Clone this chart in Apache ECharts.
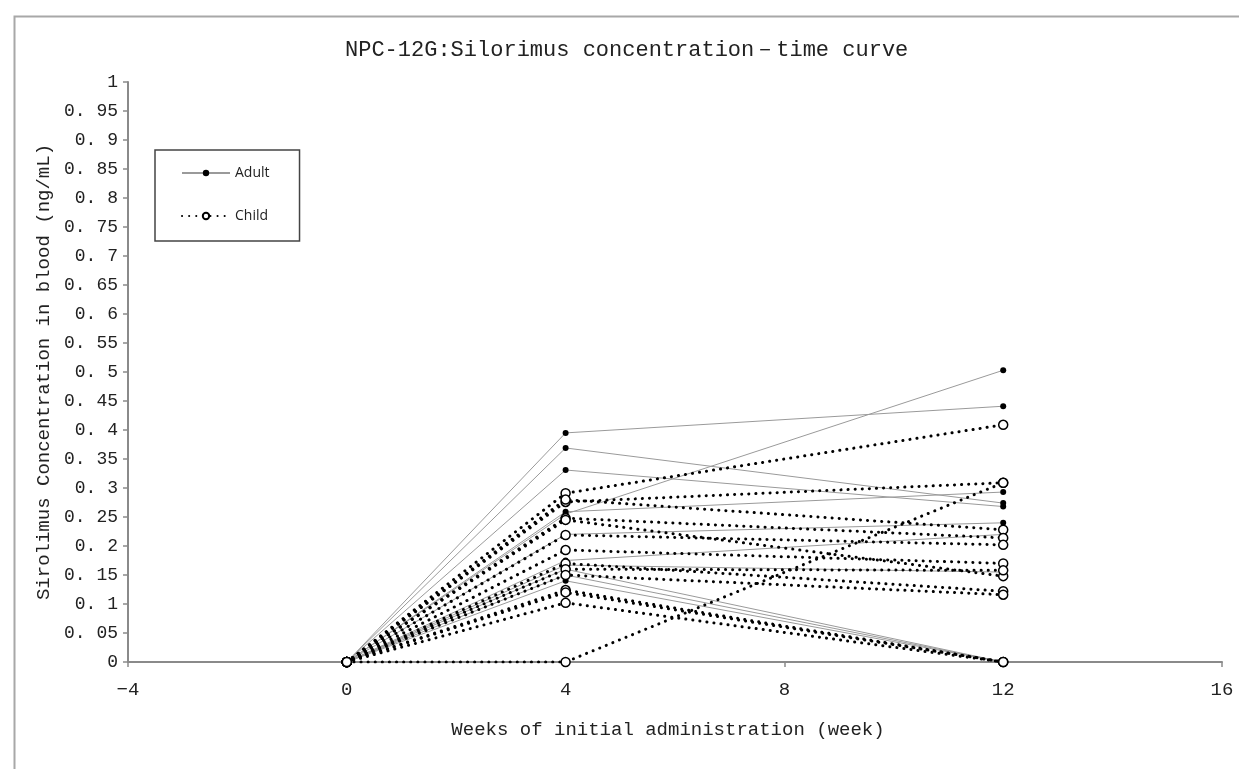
<!DOCTYPE html>
<html>
<head>
<meta charset="utf-8">
<script src="https://cdn.jsdelivr.net/npm/echarts@6/dist/echarts.min.js"></script>
<style>
html,body{margin:0;padding:0;background:#fff;}
#c{width:1239px;height:769px;}
</style>
</head>
<body>
<div id="c"></div>
<script>
// ---- data ----
const weeks = [0, 4, 12];
const adultWeek0 = [0, 0, 0, 0, 0, 0, 0, 0, 0, 0, 0];
const adultWeek4 = [0.395, 0.369, 0.331, 0.255, 0.259, 0.22, 0.175, 0.167, 0.16, 0.15, 0.14];
const adultWeek12 = [0.441, 0.274, 0.268, 0.503, 0.293, 0.24, 0.22, 0.155, 0.0, 0.0, 0.0];
const childWeek0 = [0, 0, 0, 0, 0, 0, 0, 0, 0, 0, 0, 0, 0, 0];
const childWeek4 = [0.291, 0.0, 0.276, 0.28, 0.248, 0.245, 0.219, 0.193, 0.17, 0.16, 0.15, 0.124, 0.12, 0.102];
const childWeek12 = [0.409, 0.309, 0.309, 0.228, 0.214, 0.148, 0.202, 0.17, 0.122, 0.158, 0.116, 0.0, 0.0, 0.0];
const yTicks = {min: 0, max: 1, step: 0.05};
const xTicks = {min: -4, max: 16, step: 4};
const titleText = 'NPC-12G:Silorimus concentration－time curve';

const mono = 'Liberation Mono';

function rowsOf(w0, w4, w12, i) {
  const v = [w0[i], w4[i], w12[i]];
  return weeks.map((w, j) => [w, v[j]]);
}

const series = [];
adultWeek4.forEach((_, i) => {
  series.push({
    name: 'Adult', type: 'line', z: 2,
    data: rowsOf(adultWeek0, adultWeek4, adultWeek12, i),
    symbol: 'circle', symbolSize: 6,
    itemStyle: {color: '#000'},
    lineStyle: {color: '#9a9a9a', width: 1},
    emphasis: {disabled: true}, animation: false
  });
});
childWeek4.forEach((_, i) => {
  series.push({
    name: 'Child', type: 'line', z: 3,
    data: rowsOf(childWeek0, childWeek4, childWeek12, i),
    symbol: 'circle', symbolSize: 9,
    itemStyle: {color: '#fff', borderColor: '#000', borderWidth: 1.5},
    lineStyle: {color: '#000', width: 3, type: [0.1, 7], cap: 'round'},
    emphasis: {disabled: true}, animation: false
  });
});

const chart = echarts.init(document.getElementById('c'));
chart.setOption({
  animation: false,
  backgroundColor: '#fff',
  graphic: [{
    type: 'rect', left: 12, top: 14, silent: true,
    shape: {width: 1260, height: 800},
    style: {fill: 'none', stroke: '#a8a8a8', lineWidth: 2}
  }],
  title: {
    text: titleText, left: 340, top: 34,
    textStyle: {fontFamily: mono, fontSize: 22, fontWeight: 'normal', color: '#222'}
  },
  legend: {
    data: ['Adult', 'Child'],
    orient: 'vertical', left: 155, top: 150,
    padding: [16, 30, 18, 26], itemGap: 29,
    itemWidth: 48, itemHeight: 8,
    borderColor: '#444', borderWidth: 1.5,
    textStyle: {fontFamily: 'Open Sans', fontSize: 14, color: '#222'}
  },
  grid: {left: 128, right: 17, top: 82, bottom: 107, containLabel: false},
  xAxis: {
    type: 'value', min: xTicks.min, max: xTicks.max, interval: xTicks.step,
    name: 'Weeks of initial administration (week)',
    nameLocation: 'middle', nameGap: 58,
    nameTextStyle: {fontFamily: mono, fontSize: 19, color: '#222', padding: [0, 14, 0, 0]},
    axisLine: {onZero: false, lineStyle: {color: '#8a8a8a', width: 2}},
    axisTick: {show: true, length: 5, lineStyle: {color: '#8a8a8a', width: 1.5}},
    axisLabel: {fontFamily: mono, fontSize: 19, color: '#222', margin: 18,
      formatter: v => String(v).replace('-', '−')},
    splitLine: {show: false}
  },
  yAxis: {
    type: 'value', min: yTicks.min, max: yTicks.max, interval: yTicks.step,
    name: 'Sirolimus Concentration in blood (ng/mL)',
    nameLocation: 'middle', nameGap: 72, nameRotate: 90,
    nameTextStyle: {fontFamily: mono, fontSize: 19, color: '#222'},
    axisLine: {show: true, onZero: false, lineStyle: {color: '#8a8a8a', width: 2}},
    axisTick: {show: true, length: 5, lineStyle: {color: '#8a8a8a', width: 1.5}},
    axisLabel: {fontFamily: mono, fontSize: 18, color: '#222', margin: 10,
      formatter: v => {
        const s = String(Math.round(v * 100) / 100);
        return s.replace('.', '. ');
      }},
    splitLine: {show: false}
  },
  series: series
});
</script>
</body>
</html>
